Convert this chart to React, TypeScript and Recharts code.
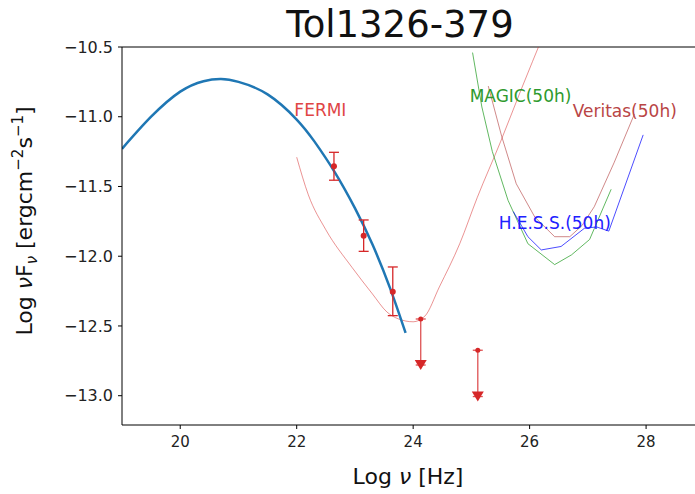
import React from 'react';
import { ComposedChart, Line, Scatter, ErrorBar, XAxis, YAxis, ReferenceLine, ReferenceDot } from 'recharts';

// axis ticks
const xTicks = [20, 22, 24, 26, 28];
const yTicks = [-13.0, -12.5, -12.0, -11.5, -11.0, -10.5];

// SED model curve (log nu, log nuF_nu)
const sedX = [19.0, 19.5, 20.0, 20.4, 20.7, 21.0, 21.5, 22.0, 22.3, 22.65, 23.0, 23.3, 23.6, 23.87];
const sedY = [-11.23, -11.0, -10.82, -10.745, -10.73, -10.75, -10.84, -11.02, -11.175, -11.395, -11.655, -11.915, -12.225, -12.55];

// Fermi sensitivity
const fermiSensX = [22.0, 22.2, 22.5, 22.95, 23.3, 23.55, 23.75, 24.0, 24.2, 24.45, 24.8, 25.1, 25.5, 25.85, 26.25];
const fermiSensY = [-11.29, -11.56, -11.81, -12.08, -12.27, -12.4, -12.45, -12.47, -12.43, -12.22, -11.91, -11.58, -11.18, -10.81, -10.4];

// IACT 50h sensitivities
const magicX = [25.02, 25.18, 25.36, 25.63, 25.97, 26.43, 26.72, 27.03, 27.4];
const magicY = [-10.54, -10.93, -11.25, -11.6, -11.91, -12.06, -11.99, -11.88, -11.52];

const veritasX = [25.29, 25.52, 25.77, 26.09, 26.43, 26.69, 26.9, 27.11, 27.45, 27.8];
const veritasY = [-10.78, -11.14, -11.48, -11.72, -11.86, -11.86, -11.78, -11.645, -11.33, -10.98];

const hessX = [25.72, 25.97, 26.2, 26.54, 26.94, 27.15, 27.36, 27.95];
const hessY = [-11.68, -11.86, -11.955, -11.93, -11.8, -11.79, -11.82, -11.13];

// Fermi data points with errors
const fermiX = [22.64, 23.15, 23.65];
const fermiY = [-11.355, -11.853, -12.254];
const fermiErrLo = [0.1, 0.112, 0.172];
const fermiErrHi = [0.1, 0.113, 0.177];

// Fermi upper limits
const ulX = [24.13, 25.11];
const ulY = [-12.45, -12.674];
const ulArrow = [0.33, 0.332];

const zip = (xs: number[], ys: number[]) => xs.map((x, i) => ({ x, y: ys[i] }));

const sedData = zip(sedX, sedY);
const fermiSensData = zip(fermiSensX, fermiSensY);
const magicData = zip(magicX, magicY);
const veritasData = zip(veritasX, veritasY);
const hessData = zip(hessX, hessY);
const fermiData = fermiX.map((x, i) => ({ x, y: fermiY[i], err: [fermiErrLo[i], fermiErrHi[i]] }));
const ulData = ulX.map((x, i) => ({ x, y: ulY[i], err: [ulArrow[i], 0] }));
const ulTips = ulX.map((x, i) => ({ x, y: ulY[i] - ulArrow[i] }));

const RED = '#d62728';
const FONT = 'DejaVu Sans, sans-serif';

const fmtY = (v: number) => (v < 0 ? '\u2212' : '') + Math.abs(v).toFixed(1);

const Dot = (props: any) => <circle cx={props.cx} cy={props.cy} r={3} fill={RED} />;

const DownArrow = (props: any) => {
  const { cx, cy } = props;
  return <polygon points={`${cx - 6},${cy - 5} ${cx + 6},${cy - 5} ${cx},${cy + 5}`} fill={RED} />;
};

export default function App() {
  return (
    <div style={{ position: 'relative', width: 695, height: 494, background: '#fff' }}>
      <style>{`body{margin:0}`}</style>
      <ComposedChart width={695} height={494} margin={{ top: 47, right: 0, bottom: 39, left: 62 }}>
        <XAxis
          type="number"
          dataKey="x"
          domain={[19, 28.84]}
          allowDataOverflow
          ticks={xTicks}
          tickSize={4}
          tickMargin={7}
          height={30}
          stroke="#000"
          tick={{ fill: '#222', fontSize: 15, fontFamily: FONT }}
        />
        <YAxis
          type="number"
          dataKey="y"
          domain={[-13.21, -10.5]}
          allowDataOverflow
          ticks={yTicks}
          tickFormatter={fmtY}
          tickSize={4}
          tickMargin={5}
          width={60}
          stroke="#000"
          tick={{ fill: '#222', fontSize: 16, fontFamily: FONT }}
        />
        <ReferenceLine y={-10.5} stroke="#000" />
        <Line data={fermiSensData} dataKey="y" type="monotone" stroke={RED} strokeOpacity={0.5} strokeWidth={1} dot={false} isAnimationActive={false} />
        <Line data={magicData} dataKey="y" type="linear" stroke="#2ca02c" strokeOpacity={0.75} strokeWidth={1} dot={false} isAnimationActive={false} />
        <Line data={veritasData} dataKey="y" type="linear" stroke="#b03a3a" strokeOpacity={0.6} strokeWidth={1} dot={false} isAnimationActive={false} />
        <Line data={hessData} dataKey="y" type="linear" stroke="#0000ff" strokeOpacity={0.7} strokeWidth={1} dot={false} isAnimationActive={false} />
        <Line data={sedData} dataKey="y" type="natural" stroke="#1f77b4" strokeWidth={2.5} dot={false} isAnimationActive={false} />
        <Scatter data={fermiData} dataKey="y" shape={Dot} isAnimationActive={false}>
          <ErrorBar dataKey="err" direction="y" width={5} stroke={RED} strokeWidth={1.3} />
        </Scatter>
        <Scatter data={ulData} dataKey="y" shape={(p: any) => <circle cx={p.cx} cy={p.cy} r={2.5} fill={RED} />} isAnimationActive={false}>
          <ErrorBar dataKey="err" direction="y" width={5} stroke={RED} strokeOpacity={0.8} strokeWidth={1.3} />
        </Scatter>
        <Scatter data={ulTips} dataKey="y" shape={DownArrow} isAnimationActive={false} />
        <ReferenceDot x={21.96} y={-10.95} r={0} label={{ value: 'FERMI', position: 'right', offset: 0, fill: '#e04545', fontSize: 17, fontFamily: FONT }} />
        <ReferenceDot x={24.97} y={-10.85} r={0} label={{ value: 'MAGIC(50h)', position: 'right', offset: 0, fill: '#2e9a2e', fontSize: 17, fontFamily: FONT }} />
        <ReferenceDot x={26.74} y={-10.96} r={0} label={{ value: 'Veritas(50h)', position: 'right', offset: 0, fill: '#b94545', fontSize: 17, fontFamily: FONT }} />
        <ReferenceDot x={25.47} y={-11.76} r={0} label={{ value: 'H.E.S.S.(50h)', position: 'right', offset: 0, fill: '#2020ff', fontSize: 17, fontFamily: FONT }} />
      </ComposedChart>
      <svg width={695} height={494} style={{ position: 'absolute', left: 0, top: 0, pointerEvents: 'none' }} fontFamily={FONT}>
        <text x={400} y={37} textAnchor="middle" fontSize={37} fill="#111">Tol1326-379</text>
        <text x={408} y={484} textAnchor="middle" fontSize={22} fill="#111">
          Log <tspan fontStyle="italic">ν</tspan> [Hz]
        </text>
        <text transform="translate(32,221) rotate(-90)" textAnchor="middle" fontSize={22} fill="#111">
          Log <tspan fontStyle="italic">ν</tspan>F<tspan fontStyle="italic" fontSize={15} dy={5}>ν</tspan>
          <tspan dy={-5}> [ergcm</tspan>
          <tspan fontSize={15} dy={-9}>−2</tspan>
          <tspan dy={9}>s</tspan>
          <tspan fontSize={15} dy={-9}>−1</tspan>
          <tspan dy={9}>]</tspan>
        </text>
      </svg>
    </div>
  );
}
